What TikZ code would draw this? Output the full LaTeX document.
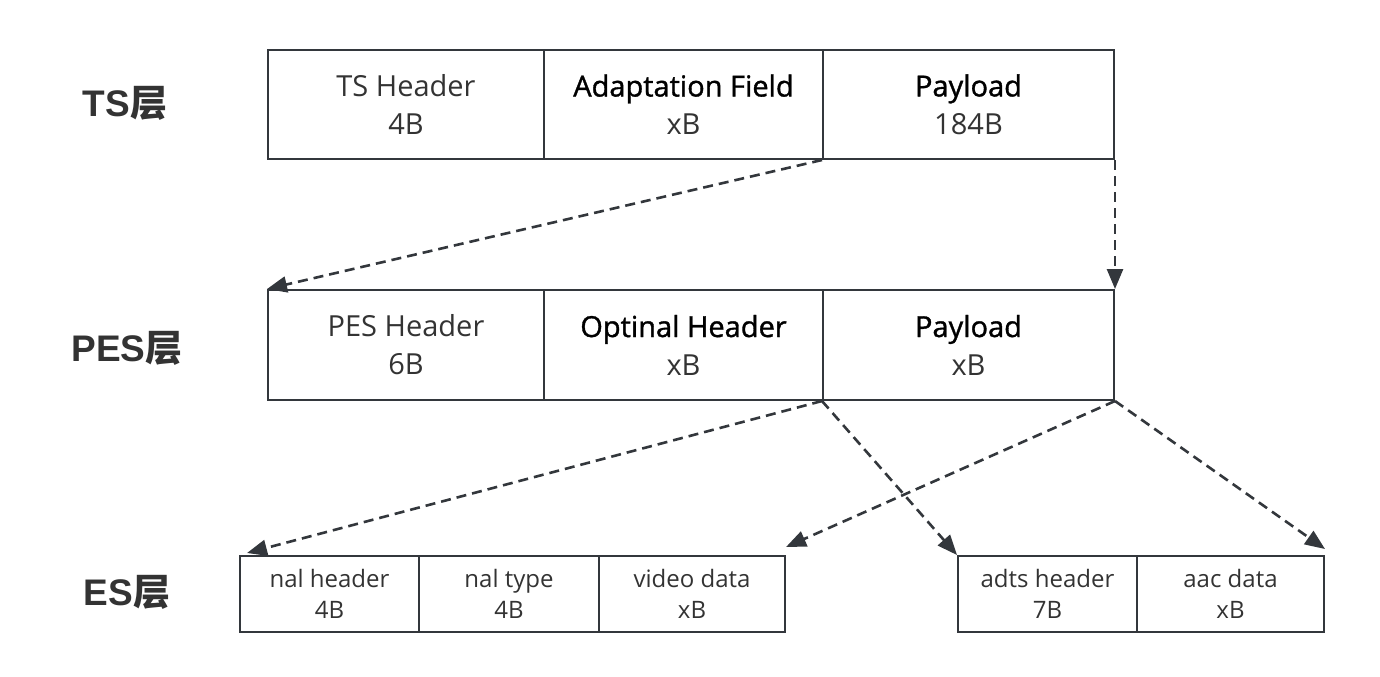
\documentclass[tikz,border=0pt]{standalone}
\usepackage{fontspec}
\setmainfont{Open Sans}
\newfontfamily\medfont[FakeBold=1.2]{Open Sans}
\newfontfamily\labelfont{Liberation Sans}
\newfontfamily\cjk{Noto Sans CJK SC}
\usetikzlibrary{arrows.meta}
\definecolor{linegray}{RGB}{51,55,60}
\definecolor{textgray}{RGB}{51,51,51}

\begin{document}
\begin{tikzpicture}[x=0.5pt,y=-0.5pt,
    cell/.style={draw=linegray, line width=1pt, inner sep=0pt, align=center,
        text=textgray, font=\fontsize{14.5}{19}\selectfont, minimum height=54.5pt},
    escell/.style={cell, minimum height=38pt, font=\fontsize{12}{15.5}\selectfont},
    layer/.style={text=textgray, font=\fontsize{18.5}{22}\selectfont\labelfont\bfseries},
    link/.style={draw=linegray, line width=1.3pt, dash pattern=on 5pt off 3pt,
        -{Triangle[length=10pt,width=8pt]}}]
    \useasboundingbox(0,0)rectangle(1380,676);

    % layer names
    \node[layer](tsname)at(125,103){TS{\cjk 层}};
    \node[layer](pesname)at(127,348){PES{\cjk 层}};
    \node[layer](esname)at(127,592){ES{\cjk 层}};

    % TS layer
    \node[cell, minimum width=138pt](tshdr)at(406,104.5){TS Header\\4B};
    \node[cell, minimum width=139.5pt](tsaf)at(683.5,104.5){\textcolor{black}{\medfont Adaptation Field}\\xB};
    \node[cell, minimum width=145.5pt](tspay)at(968.5,104.5){\textcolor{black}{\medfont Payload}\\184B};

    % PES layer
    \node[cell, minimum width=138pt, minimum height=55pt](peshdr)at(406,345){PES Header\\6B};
    \node[cell, minimum width=139.5pt, minimum height=55pt](pesopt)at(683.5,345){\textcolor{black}{\medfont Optinal Header}\\xB};
    \node[cell, minimum width=145.5pt, minimum height=55pt](pespay)at(968.5,345){\textcolor{black}{\medfont Payload}\\xB};

    % ES layer, video
    \node[escell, minimum width=89.5pt](nalhdr)at(329.5,594){nal header\\4B};
    \node[escell, minimum width=90pt](naltype)at(509,594){nal type\\4B};
    \node[escell, minimum width=93pt](viddata)at(692,594){video data\\xB};
    % ES layer, audio
    \node[escell, minimum width=89.5pt](adtshdr)at(1047.5,594){adts header\\7B};
    \node[escell, minimum width=93.5pt](aacdata)at(1230.5,594){aac data\\xB};

    \draw[link](tspay.south west)--(peshdr.north west);
    \draw[link](tspay.south east)--(pespay.north east);
    \draw[link](pespay.south west)--([xshift=4pt,yshift=1pt]nalhdr.north west);
    \draw[link](pespay.south west)--(adtshdr.north west);
    \draw[link](pespay.south east)--([yshift=4pt]viddata.north east);
    \draw[link](pespay.south east)--([yshift=3pt]aacdata.north east);
\end{tikzpicture}
\end{document}
